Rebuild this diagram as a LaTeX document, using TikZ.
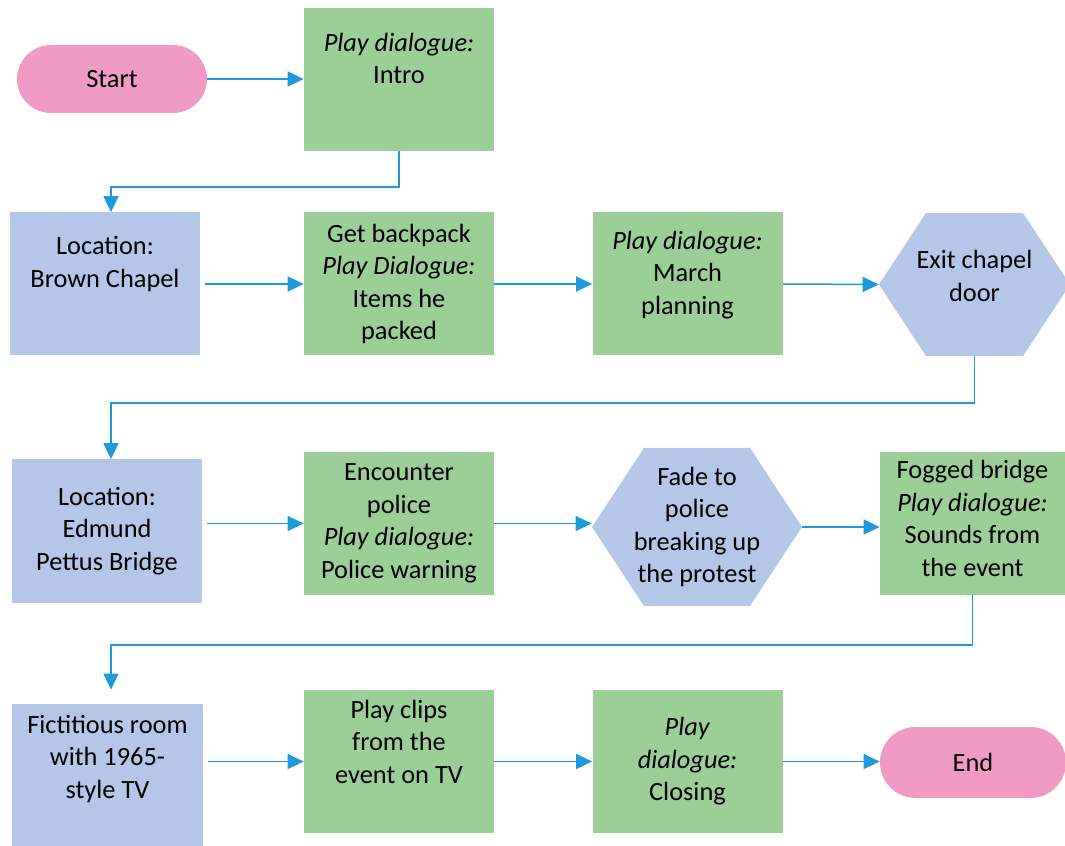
\documentclass[tikz,border=0pt]{standalone}
\usepackage{fontspec}
\setmainfont{Carlito}
\usetikzlibrary{positioning,arrows.meta,calc}
\definecolor{StepGreen}{HTML}{9BCF97}
\definecolor{PlaceBlue}{HTML}{B4C7E7}
\definecolor{EndPink}{HTML}{F09BC6}
\definecolor{FlowBlue}{HTML}{1E9AD8}

\begin{document}
\begin{tikzpicture}[x=0.2mm, y=-0.2mm,
      every node/.style={font=\fontsize{15}{18.5}\selectfont, align=center,
                         inner sep=0pt, text=black},
      term/.style={fill=EndPink, minimum width=38mm, minimum height=13.6mm,
                   rounded corners=6.8mm},
      act/.style={fill=StepGreen, minimum width=38mm, minimum height=28.6mm},
      loc/.style={fill=PlaceBlue, minimum width=38mm, minimum height=28.6mm},
      hexa/.style={fill=white, minimum width=38.2mm, minimum height=28.6mm,
                   path picture={\fill[PlaceBlue]
                     (path picture bounding box.west)
                     -- ([xshift=#1]path picture bounding box.north west)
                     -- ([xshift=-#1]path picture bounding box.north east)
                     -- (path picture bounding box.east)
                     -- ([xshift=-#1]path picture bounding box.south east)
                     -- ([xshift=#1]path picture bounding box.south west)
                     -- cycle;}},
      ar/.style={-{Triangle[length=3.2mm,width=3mm]}, FlowBlue, line width=0.3mm},
    ]
      \useasboundingbox (0,0) rectangle (1065,846);
      % row 1
      \node[term] (start) at (112,79) {Start};
      \node[act, text depth=24pt] (intro) at (399,79.5) {\textit{Play dialogue:}\\Intro};
      % row 2
      \node[loc, text depth=25pt] (brown) at (105,284) {Location:\\Brown Chapel};
      \node[act] (pack) at (399,284) {Get backpack\\\textit{Play Dialogue:}\\Items he\\packed};
      \node[act, text depth=13pt] (march) at (687.5,284) {\textit{Play dialogue:}\\March\\planning};
      \node[hexa=9.4mm, text depth=10pt] (exit) at (974.5,284.5) {Exit chapel\\door};
      % row 3
      \node[loc] (edmund) at (107,531) {Location:\\Edmund\\Pettus Bridge};
      \node[act] (police) at (399,523.5) {Encounter\\police\\\textit{Play dialogue:}\\Police warning};
      \node[hexa=10.4mm, minimum width=42mm, minimum height=31.6mm] (fade) at (697,527)
        {Fade to\\police\\breaking up\\the protest};
      \node[act, minimum width=37mm, text depth=6pt] (fog) at (972.5,523.5)
        {Fogged bridge\\\textit{Play dialogue:}\\Sounds from\\the event};
      % row 4
      \node[loc, text depth=21.5pt] (room) at (107.5,775.5) {Fictitious room\\with 1965-\\style TV};
      \node[act, text depth=22.5pt] (clips) at (399,761.5) {Play clips\\from the\\event on TV};
      \node[act] (closing) at (687.5,761.5) {\textit{Play}\\\textit{dialogue:}\\Closing};
      \node[term, minimum width=37.2mm, minimum height=14.2mm, rounded corners=7.1mm]
        (end) at (973,762.5) {End};

      \coordinate (turnA) at (111,187);
      \coordinate (turnB) at (111,403);
      \coordinate (turnC) at (111,645);

      \draw[ar] (start.east) -- (start.east -| intro.west);
      \draw[ar] (intro.south) |- (turnA) -- (turnA |- brown.north);
      \draw[ar, shorten <=1mm] (brown.east) -- (pack.west);
      \draw[ar] (pack) -- (march);
      \draw[ar] (march.east) -- (exit.west);
      \draw[ar] (exit.south) |- (turnB) -- (turnB |- edmund.north);
      \draw[ar, shorten <=1mm] (edmund.east |- police.west) -- (police.west);
      \draw[ar] (police.east) -- (police.east -| fade.west);
      \draw[ar] (fade.east) -- (fade.east -| fog.west);
      \draw[ar, shorten >=2.8mm] (fog.south) |- (turnC) -- (turnC |- room.north);
      \draw[ar, shorten <=1mm] (room.east |- clips.west) -- (clips.west);
      \draw[ar] (clips) -- (closing);
      \draw[ar] (closing.east) -- (closing.east -| end.west);
    \end{tikzpicture}
\end{document}
